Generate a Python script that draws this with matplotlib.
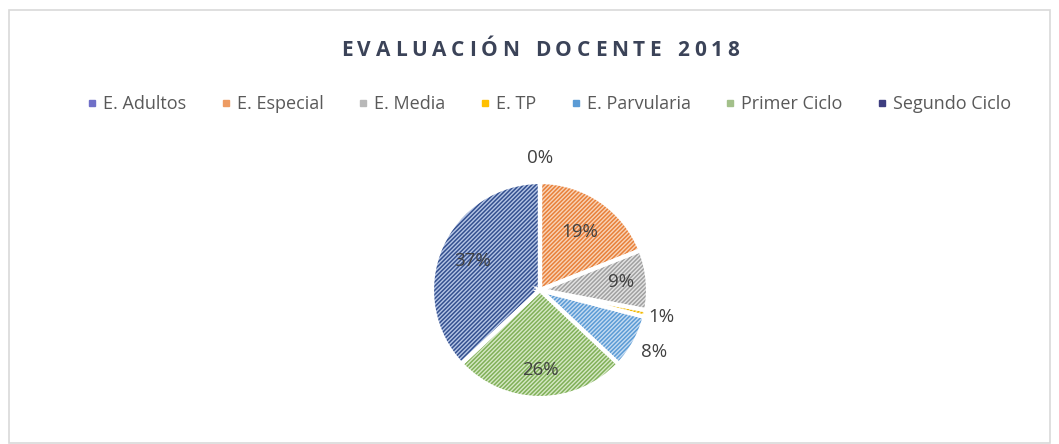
import numpy as np
import matplotlib
matplotlib.use("Agg")
from matplotlib import pyplot as plt
from matplotlib.lines import Line2D
from matplotlib.patches import Rectangle

categories = ["E. Adultos", "E. Especial", "E. Media", "E. TP", "E. Parvularia", "Primer Ciclo", "Segundo Ciclo"]
values = [0, 19, 9, 1, 8, 26, 37]
pct_labels = ["0%", "19%", "9%", "1%", "8%", "26%", "37%"]
title = "EVALUACIÓN DOCENTE 2018"

# excel-ish colors: line colour, light background, legend colour
line_colors = ["#6a6ac0", "#e8803a", "#a0a0a0", "#f0b800", "#5b9bd5", "#80b058", "#34508f"]
back_colors = ["#c8c8ee", "#f8d4b8", "#e4e4e4", "#ffe699", "#c6dcf2", "#d6e8c6", "#b6c6e6"]
legend_colors = ["#7070c8", "#ed9b63", "#b8b8b8", "#ffc000", "#5b9bd5", "#a3c08a", "#3e3e80"]
label_radius = [1.22, 0.65, 0.75, 1.15, 1.2, 0.74, 0.68]

plt.rcParams['font.family'] = ['Open Sans', 'DejaVu Sans']

W, H = 1059, 444
fig = plt.figure(figsize=(W / 100, H / 100), dpi=100)

# light frame round the chart
fig.patches.append(Rectangle((9 / W, 0.002), (1050 - 9) / W, (H - 10) / H - 0.002,
                             transform=fig.transFigure, fill=False,
                             edgecolor="#d9d9d9", linewidth=1.2))

cx, cy, r = 540, 290, 108
ax = fig.add_axes([(cx - r) / W, (H - cy - r) / H, 2 * r / W, 2 * r / H])

plt.rcParams['hatch.linewidth'] = 1.1
wedges, _ = ax.pie(values, colors=back_colors, startangle=90, counterclock=False,
                   radius=1, wedgeprops=dict(linewidth=0))
for w, lc in zip(wedges, line_colors):
    w.set_hatch("////////")
    w.set_edgecolor(lc)
    w.set_linewidth(0)

# white separators
ax.pie(values, colors=["none"] * len(values), startangle=90, counterclock=False,
       radius=1, wedgeprops=dict(edgecolor="white", linewidth=3, fill=False))

for w, txt, rr in zip(wedges, pct_labels, label_radius):
    ang = np.deg2rad((w.theta1 + w.theta2) / 2)
    ax.text(rr * np.cos(ang), rr * np.sin(ang), txt, ha="center", va="center",
            fontsize=13.5, color="#404040")

ax.set_xlim(-1, 1)
ax.set_ylim(-1, 1)
ax.set_aspect("equal")
ax.axis("off")

# spaced-out title, one glyph at a time
renderer = fig.canvas.get_renderer()
title_kw = dict(fontsize=15, fontweight="bold", color="#3b4358", va="center", ha="left")
glyphs = [fig.text(0, 0, ch, **title_kw) for ch in title]
widths = []
for g, ch in zip(glyphs, title):
    if ch == " ":
        g.set_text("n")
        widths.append(g.get_window_extent(renderer).width * 0.5)
        g.set_text(" ")
    else:
        widths.append(g.get_window_extent(renderer).width)
target_w = 398
gap = (target_w - sum(widths)) / (len(title) - 1)
x = 540 - target_w / 2
for g, wdt in zip(glyphs, widths):
    g.set_position((x / W, (H - 50) / H))
    x += wdt + gap

handles = [Line2D([], [], marker="s", linestyle="none", markersize=5,
                  markerfacecolor=c, markeredgecolor=c) for c in legend_colors]
fig.legend(handles, categories, loc="center", bbox_to_anchor=(549 / W, (H - 104) / H),
           ncol=len(categories), frameon=False, fontsize=13, labelcolor="#595959",
           handlelength=0.6, handletextpad=0.3, columnspacing=1.9)

fig.savefig("out.png", dpi=100, facecolor="white")
